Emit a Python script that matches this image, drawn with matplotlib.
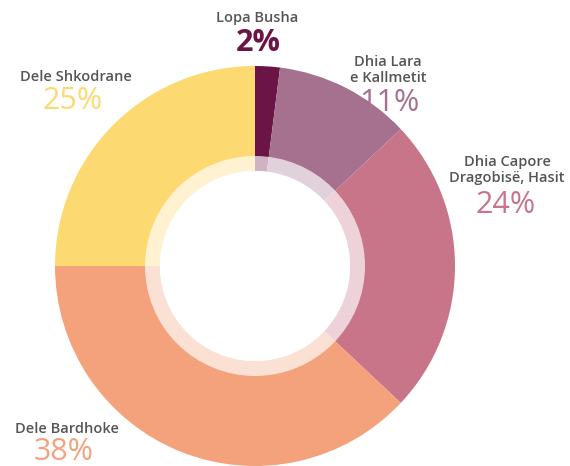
import matplotlib
matplotlib.use("Agg")
import matplotlib.pyplot as plt
from matplotlib.patches import Circle

# data
names = ["Lopa Busha", "Dhia Lara\ne Kallmetit", "Dhia Capore\nDragobisë, Hasit",
         "Dele Bardhoke", "Dele Shkodrane"]
shares = [2, 11, 24, 38, 25]
colors = ["#6b1446", "#a5718f", "#c8758a", "#f3a27b", "#fdd971"]

W, H = 570, 466
fig = plt.figure(figsize=(W / 100, H / 100), dpi=100)
ax = fig.add_axes([0, 0, 1, 1])

cx, cy = 255, H - 266
r_out, r_mid, r_in = 200, 110, 95

ax.pie(shares, colors=colors, startangle=90, counterclock=False,
       radius=r_out, center=(cx, cy), frame=True,
       wedgeprops=dict(width=r_out - r_in, linewidth=0))
# lighter inner ring
ax.add_patch(Circle((cx, cy), r_mid, facecolor="white", alpha=0.68, linewidth=0))
ax.add_patch(Circle((cx, cy), r_in, facecolor="white", linewidth=0))
ax.set_xlim(0, W)
ax.set_ylim(0, H)
ax.set_aspect("equal")
ax.axis("off")

# label layout (pixel positions from top-left)
name_pos = [(257, 18), (388, 70), (507, 170), (67, 429), (76, 77)]
pct_pos = [(258, 43), (389, 103), (506, 205), (64, 452), (73, 101)]
grey = "#555555"
for i, name in enumerate(names):
    x, y = name_pos[i]
    ax.text(x, H - y, name, ha="center", va="center", fontsize=10.5,
            family="Open Sans", fontweight="semibold", color=grey,
            linespacing=1.15)
    px, py = pct_pos[i]
    ax.text(px, H - py, f"{shares[i]}%", ha="center", va="center",
            fontsize=22, family="Open Sans",
            fontweight="bold" if i == 0 else "normal", color=colors[i])

fig.savefig("out.png", dpi=100, facecolor="white")
